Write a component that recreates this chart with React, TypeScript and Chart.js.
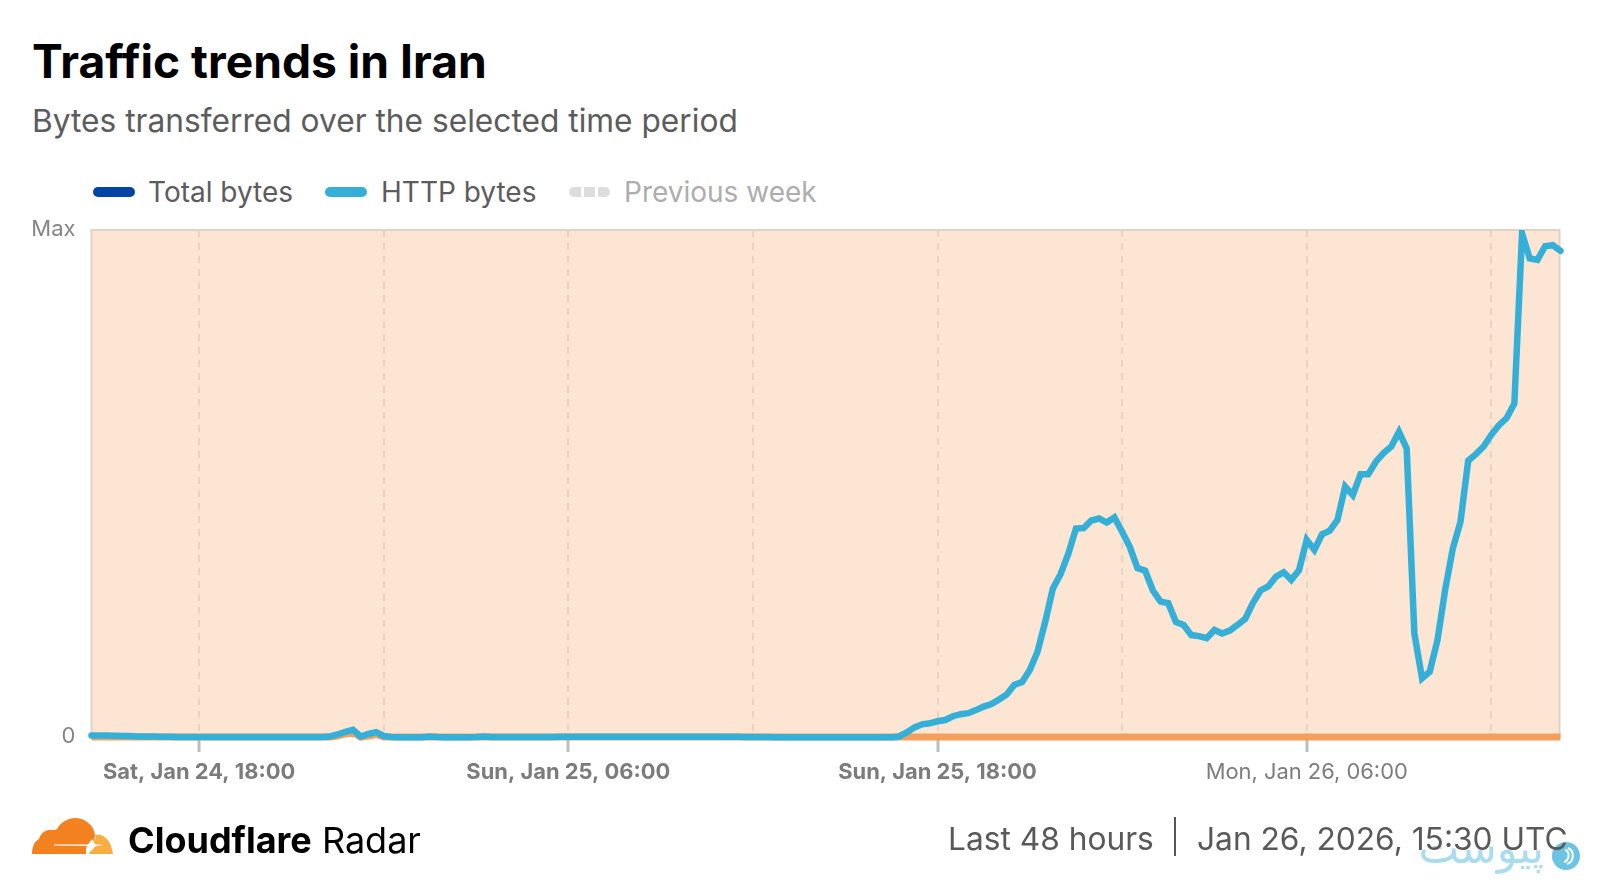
import { useEffect, useRef } from 'react'
import { Chart, registerables } from 'chart.js'

Chart.register(...registerables)

const START = Date.UTC(2026, 0, 24, 14, 30)
const STEP = 15 * 60 * 1000
const HOUR = 60 * 60 * 1000

// share of the period maximum, one value per 15 minutes
const httpBytes = [
  0.3, 0.3, 0.3, 0.25, 0.2, 0.2, 0.1, 0.1, 0.1, 0.05, 0.05, 0, 0, 0, 0, 0,
  0, 0, 0, 0, 0, 0, 0, 0, 0, 0, 0, 0, 0, 0, 0, 0.1, 0.5, 1.0, 1.4, 0.1,
  0.6, 0.95, 0.2, 0, -0.05, -0.05, -0.05, -0.05, 0.1, 0, -0.05, -0.05, -0.05, -0.05, 0, 0.1, 0, 0, 0,
  0, 0, 0, 0.02, 0.02, 0.02, 0.05, 0.05, 0.05, 0.05, 0.05, 0.05, 0.05, 0.05, 0.05, 0.05, 0.05,
  0.05, 0.05, 0.05, 0.05, 0.05, 0.05, 0.05, 0.05, 0.05, 0.05, 0.05, 0.05, 0.05, 0, 0, 0, 0, -0.05,
  -0.05, -0.05, -0.05, -0.05, -0.05, -0.05, -0.05, -0.05, -0.05, -0.05, -0.05, -0.05, -0.05, -0.05, -0.05,
  0.1, 0.9, 1.9, 2.5, 2.7, 3.1, 3.35, 4.1, 4.5, 4.7, 5.3, 6.0, 6.5, 7.4, 8.4, 10.3,
  10.85, 13.2, 16.8, 22.7, 29.3, 32.1, 36.1, 41.1, 41.2, 42.7, 43.1, 42.3, 43.3, 40.5, 37.5, 33.3,
  32.8, 28.9, 26.7, 26.4, 22.7, 22.1, 20.1, 19.9, 19.5, 21.1, 20.4, 21.0, 22.1, 23.3, 26.4, 28.9,
  29.7, 31.6, 32.5, 31.0, 32.9, 38.9, 36.9, 40.0, 40.7, 42.8, 49.4, 47.7, 51.8, 51.8, 54.3, 56.0,
  57.3, 60.2, 56.9, 20.4, 11.6, 12.9, 19.1, 29.0, 37.2, 42.5, 54.5, 55.8, 57.3, 59.6, 61.5, 62.9,
  65.8, 99.3, 94.4, 94.1, 96.8, 97.0, 95.9,
]

// the outage bar along the bottom, with the small hump it shows on Saturday night
const outageIndexes = [0, 31, 32, 33, 34, 35, 36, 37, 38, 191]
const outageValues = [0, 0, 0.2, 0.6, 0.9, 0, 0.2, 0.5, 0, 0]

const tickHours = [18, 24, 30, 36, 42, 48, 54, 60]
const tickLabels: Record<number, string> = {
  18: 'Sat, Jan 24, 18:00',
  30: 'Sun, Jan 25, 06:00',
  42: 'Sun, Jan 25, 18:00',
  54: 'Mon, Jan 26, 06:00',
}
const boldHours = [18, 30, 42]
const yTickLabels: Record<number, string> = { 0: '0', 100: 'Max' }

const FONT = 'Inter, "Noto Sans", sans-serif'
const LINE_CLIP = { left: 6, top: 0, right: 6, bottom: 6 }
const times = httpBytes.map((_, i) => START + i * STEP)
const hourOf = (v: number) => (v - Date.UTC(2026, 0, 24, 0, 0)) / HOUR

const outageBand = {
  id: 'outageBand',
  beforeDraw(chart: Chart) {
    const { ctx, chartArea } = chart
    const left = chartArea.left
    const right = chartArea.right - 1
    ctx.save()
    ctx.fillStyle = '#fce6d3'
    ctx.fillRect(left, chartArea.top, right - left, chartArea.bottom - chartArea.top)
    ctx.strokeStyle = '#e2d2c6'
    ctx.lineWidth = 2
    ctx.beginPath()
    ctx.moveTo(left, chartArea.bottom)
    ctx.lineTo(left, chartArea.top)
    ctx.lineTo(right, chartArea.top)
    ctx.lineTo(right, chartArea.bottom)
    ctx.stroke()
    ctx.restore()
  },
}

function Pill({ color, left }: { color: string; left: number }) {
  return (
    <span style={{ position: 'absolute', left, top: 187, width: 42, height: 10, borderRadius: 5, background: color }} />
  )
}

function Label({ text, left, color }: { text: string; left: number; color: string }) {
  return (
    <span style={{ position: 'absolute', left, top: 174, lineHeight: '36px', fontSize: 28, color, whiteSpace: 'nowrap' }}>
      {text}
    </span>
  )
}

function CloudLogo() {
  return (
    <svg style={{ position: 'absolute', left: 32, top: 818 }} width={81} height={36} viewBox="0 0 81 36">
      <path
        fill="#f4811f"
        d="M0 36 C0 28 3 23 7 21 C9 15 14 11 20 12 C22 12 24 12 25 11 C29 4 36 0 43 0 C52 0 60 6 62 13 C64 18 62 23 60 26 L54 29 L54 36 Z"
      />
      <path fill="#faad3f" d="M63 17 C71 15 79 21 81 36 L57 36 L60 30 L68 27 L60 26 C63 23 64 20 63 17 Z" />
      <path fill="#ffffff" d="M22 26.5 L56 26.5 L60 21 L63 26.5 L73 27 L63 28 L60 33 L56 28 L22 27.5 Z" />
    </svg>
  )
}

function Watermark() {
  return (
    <>
      <div dir="rtl" style={{ position: 'absolute', left: 1420, top: 826, width: 124, textAlign: 'center', fontFamily: '"DejaVu Sans"', fontSize: 43, lineHeight: '44px', color: '#a9dcef', whiteSpace: 'nowrap' }}>
        پیوست
      </div>
      <svg style={{ position: 'absolute', left: 1552, top: 842 }} width={28} height={28} viewBox="0 0 28 28">
        <circle cx={14} cy={14} r={14} fill="#6cc4e4" />
        <path d="M13 8 C18 9 18 18 12 20 M16 6 C23 9 22 20 15 22" fill="none" stroke="#ffffff" strokeWidth={2} />
      </svg>
    </>
  )
}

export default function App() {
  const canvasRef = useRef<HTMLCanvasElement>(null)

  useEffect(() => {
    if (!canvasRef.current) return
    const chart = new Chart(canvasRef.current, {
      type: 'line',
      data: {
        datasets: [
          {
            label: 'HTTP bytes',
            data: httpBytes.map((y, i) => ({ x: times[i], y })),
            borderColor: '#34b0d8',
            borderWidth: 6.5,
            borderCapStyle: 'round',
            pointRadius: 0,
            clip: LINE_CLIP,
            order: 1,
          },
          {
            label: 'Total bytes',
            data: httpBytes.map((y, i) => ({ x: times[i], y })),
            borderColor: '#0045a6',
            borderWidth: 4,
            pointRadius: 0,
            clip: LINE_CLIP,
            order: 2,
          },
          {
            label: 'Outage',
            data: outageIndexes.map((idx, i) => ({ x: times[idx], y: outageValues[i] })),
            borderColor: '#f4a05c',
            backgroundColor: '#f4a05c',
            borderWidth: 7,
            borderCapStyle: 'butt',
            fill: 'origin',
            pointRadius: 0,
            clip: LINE_CLIP,
            order: 3,
          },
        ],
      },
      options: {
        responsive: false,
        animation: false,
        layout: { padding: { left: 0, top: 230, right: 39.5, bottom: 103 } },
        plugins: { legend: { display: false }, tooltip: { enabled: false } },
        scales: {
          x: {
            type: 'linear',
            min: times[0],
            max: times[times.length - 1],
            border: { display: false, dash: [7, 6] },
            afterFit: (scale) => { scale.height = 50 },
            afterBuildTicks: (scale) => {
              scale.ticks = tickHours.map((h) => ({ value: Date.UTC(2026, 0, 24, 0, 0) + h * HOUR }))
            },
            grid: {
              color: '#ebd2c1',
              lineWidth: 2,
              tickBorderDash: [],
              tickLength: 15,
              tickWidth: 3,
              tickColor: (ctx) => (ctx.tick && tickLabels[hourOf(ctx.tick.value)] ? '#bdbdbd' : 'transparent'),
            },
            ticks: {
              autoSkip: false,
              maxRotation: 0,
              padding: 7,
              color: '#7c7c7c',
              font: (ctx) => ({
                family: FONT,
                size: 21.9,
                weight: ctx.tick && boldHours.includes(hourOf(ctx.tick.value)) ? 700 : 400,
              }),
              callback: (v) => tickLabels[hourOf(Number(v))] ?? '',
            },
          },
          y: {
            min: 0,
            max: 100,
            border: { display: false },
            afterFit: (scale) => { scale.width = 91.5 },
            afterBuildTicks: (scale) => {
              scale.ticks = [{ value: 0 }, { value: 100 }]
            },
            grid: { display: false, drawTicks: false },
            ticks: {
              padding: 16,
              labelOffset: -1,
              color: '#858585',
              font: { family: FONT, size: 22 },
              callback: (v) => yTickLabels[Number(v)] ?? '',
            },
          },
        },
      },
      plugins: [outageBand],
    })
    return () => { chart.destroy() }
  }, [])

  return (
    <div style={{ position: 'absolute', left: 0, top: 0, width: 1600, height: 890, background: '#fff', fontFamily: FONT, overflow: 'hidden' }}>
      <div style={{ position: 'absolute', left: 32, top: 30, fontSize: 46.2, lineHeight: '62px', fontWeight: 700, color: '#000', whiteSpace: 'nowrap' }}>
        Traffic trends in Iran
      </div>
      <div style={{ position: 'absolute', left: 32, top: 101, fontSize: 31.7, lineHeight: '40px', color: '#5c5c5c', whiteSpace: 'nowrap' }}>
        Bytes transferred over the selected time period
      </div>

      <Pill color="#0045a6" left={93} />
      <Label text="Total bytes" left={148} color="#5c5c5c" />
      <Pill color="#34b0d8" left={325} />
      <Label text="HTTP bytes" left={381} color="#5c5c5c" />
      <span style={{ position: 'absolute', left: 569, top: 187, width: 12, height: 10, borderRadius: '5px 0 0 5px', background: '#dddddd' }} />
      <span style={{ position: 'absolute', left: 584, top: 187, width: 11, height: 10, background: '#dddddd' }} />
      <span style={{ position: 'absolute', left: 598, top: 187, width: 12, height: 10, borderRadius: '0 5px 5px 0', background: '#dddddd' }} />
      <Label text="Previous week" left={624} color="#adadad" />

      <canvas ref={canvasRef} width={1600} height={890} style={{ position: 'absolute', left: 0, top: 0 }} />

      <CloudLogo />
      <div style={{ position: 'absolute', left: 128, top: 815, fontSize: 36, lineHeight: '50px', color: '#000', whiteSpace: 'nowrap' }}>
        <b>Cloudflare</b> Radar
      </div>
      <Watermark />
      <div style={{ position: 'absolute', left: 948, top: 818, fontSize: 31.7, lineHeight: '42px', color: '#595959', whiteSpace: 'nowrap' }}>
        Last 48 hours
      </div>
      <div style={{ position: 'absolute', left: 1174, top: 817, width: 2, height: 39, background: '#555' }} />
      <div style={{ position: 'absolute', left: 1197, top: 818, fontSize: 31.7, lineHeight: '42px', color: '#595959', whiteSpace: 'nowrap' }}>
        Jan 26, 2026, 15:30 UTC
      </div>
    </div>
  )
}
